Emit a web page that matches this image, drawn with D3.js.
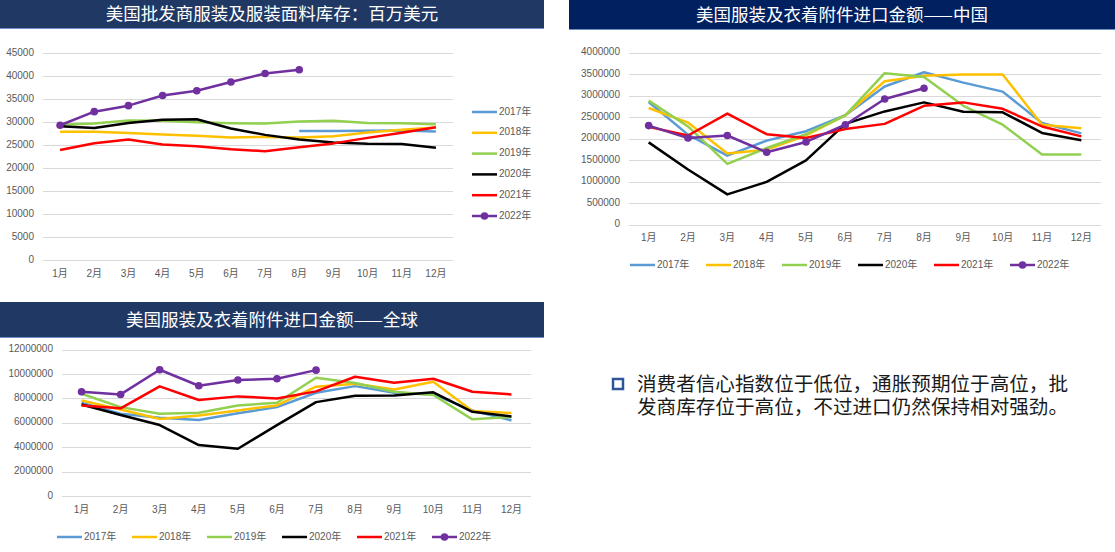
<!DOCTYPE html>
<html>
<head>
<meta charset="utf-8">
<script src="https://cdn.jsdelivr.net/npm/d3@7"></script>
<style>
  body { margin: 0; background: #fff; }
  svg { display: block; font-family: "Liberation Sans", "Noto Sans CJK SC", sans-serif; }
</style>
</head>
<body>
<svg id="chart"></svg>
<script>
const months = ["1月", "2月", "3月", "4月", "5月", "6月", "7月", "8月", "9月", "10月", "11月", "12月"];
const years = ["2017年", "2018年", "2019年", "2020年", "2021年", "2022年"];
const colors = ["#5B9BD5", "#FFC000", "#92D050", "#000000", "#FF0000", "#7030A0"];

// 美国批发商服装及服装面料库存：百万美元
const stock2017 = [null, null, null, null, null, null, null, 28050, 28050, 28100, 28150, 27950];
const stock2018 = [27900, 27900, 27600, 27300, 27000, 26650, 26750, 26650, 26900, 27700, 28300, 28800];
const stock2019 = [29400, 29700, 30300, 30250, 29950, 29750, 29650, 30100, 30250, 29800, 29750, 29500];
const stock2020 = [29100, 28700, 29800, 30500, 30600, 28600, 27200, 26200, 25550, 25250, 25200, 24400];
const stock2021 = [23900, 25400, 26200, 25100, 24750, 24100, 23650, 24500, 25350, 26550, 27650, 28850];
const stock2022 = [29300, 32250, 33550, 35750, 36800, 38700, 40550, 41350];

// 美国服装及衣着附件进口金额——中国
const china2017 = [2850000, 2090000, 1600000, 1950000, 2170000, 2540000, 3210000, 3540000, 3300000, 3090000, 2360000, 2120000];
const china2018 = [2710000, 2370000, 1650000, 1740000, 2070000, 2540000, 3330000, 3460000, 3490000, 3490000, 2320000, 2240000];
const china2019 = [2880000, 2280000, 1410000, 1780000, 2100000, 2540000, 3520000, 3430000, 2760000, 2320000, 1630000, 1630000];
const china2020 = [1910000, 1280000, 700000, 990000, 1490000, 2340000, 2630000, 2840000, 2620000, 2610000, 2130000, 1960000];
const china2021 = [2270000, 2070000, 2580000, 2100000, 2010000, 2220000, 2340000, 2760000, 2840000, 2690000, 2280000, 2050000];
const china2022 = [2300000, 2010000, 2070000, 1680000, 1920000, 2320000, 2920000, 3170000];

// 美国服装及衣着附件进口金额——全球
const world2017 = [7640000, 6740000, 6410000, 6220000, 6770000, 7280000, 8460000, 9000000, 8460000, 8320000, 7010000, 6190000];
const world2018 = [7830000, 7090000, 6300000, 6600000, 7010000, 7420000, 8950000, 9190000, 8730000, 9360000, 6960000, 6790000];
const world2019 = [8380000, 7280000, 6740000, 6820000, 7420000, 7640000, 9690000, 9250000, 8540000, 8270000, 6280000, 6470000];
const world2020 = [7500000, 6630000, 5810000, 4170000, 3870000, 5810000, 7690000, 8210000, 8240000, 8490000, 6900000, 6520000];
const world2021 = [7420000, 7180000, 8980000, 7860000, 8160000, 7990000, 8570000, 9770000, 9280000, 9600000, 8540000, 8320000];
const world2022 = [8540000, 8320000, 10340000, 9030000, 9500000, 9600000, 10310000];

const svg = d3.select("#chart").attr("width", 1115).attr("height", 552);

function titleBar(x, w, y, h, fill, text) {
  svg.append("rect").attr("x", x).attr("y", y).attr("width", w).attr("height", h).attr("fill", fill);
  svg.append("line").attr("x1", x).attr("x2", x + w).attr("y1", y + h - 0.5).attr("y2", y + h - 0.5)
    .attr("stroke", "#6f8fc8").attr("stroke-width", 1);
  svg.append("text")
    .attr("x", x + w / 2).attr("y", y + h / 2 + 1)
    .attr("text-anchor", "middle").attr("dominant-baseline", "middle")
    .attr("fill", "#fff").style("font-size", "17.5px")
    .style("font-family", "'Noto Sans CJK SC', sans-serif")
    .text(text);
}

titleBar(0, 544, 0, 29, "#1F3864", "美国批发商服装及服装面料库存：百万美元");
titleBar(569, 546, 0, 30, "#002060", "美国服装及衣着附件进口金额——中国");
titleBar(0, 544, 302, 36, "#1F3864", "美国服装及衣着附件进口金额——全球");

function drawChart(opt) {
  const x = d3.scaleBand().domain(months).range([opt.left, opt.right]);
  const y = d3.scaleLinear().domain([0, opt.max]).range([opt.bottom, opt.top]);
  const g = svg.append("g");

  const ticks = d3.range(0, opt.max + 1, opt.step);
  g.selectAll(".grid").data(ticks).enter().append("line")
    .attr("x1", opt.left).attr("x2", opt.right)
    .attr("y1", d => Math.round(y(d)) + 0.5).attr("y2", d => Math.round(y(d)) + 0.5)
    .attr("stroke", "#d9d9d9").attr("stroke-width", 1);

  g.selectAll(".ylab").data(ticks).enter().append("text")
    .attr("x", opt.left - 9).attr("y", d => y(d))
    .attr("text-anchor", "end").attr("dominant-baseline", "middle")
    .attr("fill", "#595959").style("font-size", "10px")
    .text(d => d3.format("d")(d));

  g.selectAll(".xlab").data(months).enter().append("text")
    .attr("x", d => x(d) + x.bandwidth() / 2).attr("y", opt.bottom + 14)
    .attr("text-anchor", "middle").attr("dominant-baseline", "middle")
    .attr("fill", "#595959").style("font-size", "10px")
    .text(d => d);

  const line = d3.line()
    .defined(d => d != null)
    .x((d, i) => x(months[i]) + x.bandwidth() / 2)
    .y(d => y(d));

  opt.series.forEach((s, k) => {
    g.append("path").datum(s)
      .attr("fill", "none").attr("stroke", colors[k])
      .attr("stroke-width", 2.5).attr("stroke-linejoin", "round")
      .attr("d", line);
  });
  const last = opt.series[opt.series.length - 1];
  g.selectAll(".dot").data(last).enter().append("circle")
    .attr("cx", (d, i) => x(months[i]) + x.bandwidth() / 2)
    .attr("cy", d => y(d)).attr("r", 3.8).attr("fill", colors[5]);

  // legend
  years.forEach((yr, k) => {
    const lx = opt.legend.vertical ? opt.legend.x : opt.legend.x + k * opt.legend.dx;
    const ly = opt.legend.vertical ? opt.legend.y + k * opt.legend.dy : opt.legend.y;
    g.append("line").attr("x1", lx).attr("x2", lx + 25).attr("y1", ly).attr("y2", ly)
      .attr("stroke", colors[k]).attr("stroke-width", 2.5);
    if (k === 5) g.append("circle").attr("cx", lx + 12.5).attr("cy", ly).attr("r", 3.8).attr("fill", colors[k]);
    g.append("text").attr("x", lx + 27).attr("y", ly)
      .attr("dominant-baseline", "middle").attr("fill", "#595959").style("font-size", "10px")
      .text(yr);
  });
}

drawChart({
  left: 43, right: 453, top: 53, bottom: 260, max: 45000, step: 5000,
  series: [stock2017, stock2018, stock2019, stock2020, stock2021, stock2022],
  legend: { vertical: true, x: 472, y: 112, dy: 20.8 }
});

drawChart({
  left: 629, right: 1101, top: 52.5, bottom: 224.5, max: 4000000, step: 500000,
  series: [china2017, china2018, china2019, china2020, china2021, china2022],
  legend: { vertical: false, x: 630, y: 265, dx: 76 }
});

drawChart({
  left: 62, right: 531, top: 349.5, bottom: 496, max: 12000000, step: 2000000,
  series: [world2017, world2018, world2019, world2020, world2021, world2022],
  legend: { vertical: false, x: 57, y: 537, dx: 75 }
});

// 文字说明
svg.append("rect").attr("x", 613).attr("y", 379).attr("width", 10).attr("height", 10)
  .attr("fill", "none").attr("stroke", "#2F5597").attr("stroke-width", 2.5);
const noteStyle = sel => sel.attr("fill", "#1a1a1a")
  .style("font-size", "19.6px").style("font-family", "'Liberation Sans', 'Noto Sans CJK SC', sans-serif");
svg.append("text").call(noteStyle).attr("x", 637).attr("y", 391)
  .text("消费者信心指数位于低位，通胀预期位于高位，批");
svg.append("text").call(noteStyle).attr("x", 637).attr("y", 414)
  .text("发商库存位于高位，不过进口仍然保持相对强劲。");
</script>
</body>
</html>
